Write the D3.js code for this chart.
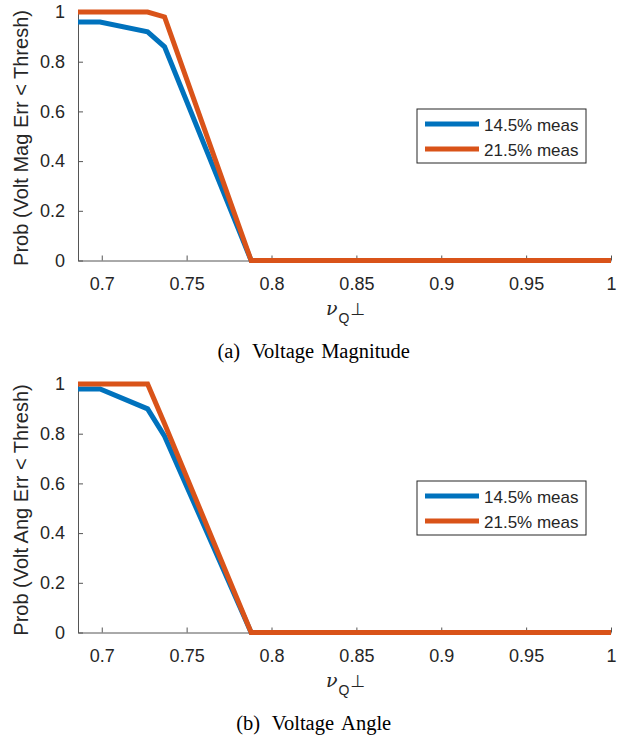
<!DOCTYPE html>
<html>
<head>
<meta charset="utf-8">
<script src="https://cdn.jsdelivr.net/npm/d3@7"></script>
<style>
  body { margin: 0; background: #fff; }
  svg text { font-family: "Liberation Sans", Arial, sans-serif; fill: #262626; }
</style>
</head>
<body>
<svg id="chart" width="619" height="738"></svg>
<script>
// shared x grid (nu_Q perp)
const xVals = [0.686, 0.699, 0.727, 0.737, 0.788, 1.0]

// (a) voltage magnitude
const magLow  = [0.96, 0.96, 0.92, 0.86, 0, 0]
const magHigh = [1, 1, 1, 0.98, 0, 0]
// (b) voltage angle
const angLow  = [0.98, 0.98, 0.90, 0.79, 0, 0]
const angHigh = [1, 1, 1, 0.84, 0, 0]

const seriesNames = ["14.5% meas", "21.5% meas"]
const colors = ["#0072BD", "#D95319"]
const xTicks = [0.7, 0.75, 0.8, 0.85, 0.9, 0.95, 1]
const yTicks = [0, 0.2, 0.4, 0.6, 0.8, 1]

const svg = d3.select('#chart')

const x = d3.scaleLinear().domain([0.686, 1]).range([78, 611])

function panel(top, ylabel, capTag, capWords, low, high) {
    const y = d3.scaleLinear().domain([0, 1]).range([top + 248.5, top])
    const g = svg.append('g')

    // axes, ticks point inward
    const xa = g.append('g')
        .attr('transform', `translate(0,${top + 248.5})`)
        .call(d3.axisBottom(x).tickValues(xTicks).tickSizeInner(-5).tickSizeOuter(0)
            .tickFormat(d => d3.format('~g')(d)).tickPadding(17))
    const ya = g.append('g')
        .attr('transform', 'translate(78,0)')
        .call(d3.axisLeft(y).tickValues(yTicks).tickSizeInner(-5).tickSizeOuter(0)
            .tickFormat(d => d3.format('~g')(d)).tickPadding(13))
    for (const a of [xa, ya]) {
        a.selectAll('path, line').attr('stroke', '#555').attr('stroke-width', 1)
        a.selectAll('text').attr('font-size', 18).attr('fill', '#262626')
            .attr('font-family', '"Liberation Sans", Arial, sans-serif')
    }

    // lines
    const line = d3.line().x((d, i) => x(xVals[i])).y(d => y(d))
    ;[low, high].forEach((s, k) => {
        g.append('path').datum(s)
            .attr('d', line)
            .attr('fill', 'none')
            .attr('stroke', colors[k])
            .attr('stroke-width', 5)
            .attr('stroke-linejoin', 'miter')
    })

    // y label
    g.append('text')
        .attr('transform', `translate(28,${top + 126}) rotate(-90)`)
        .attr('text-anchor', 'middle')
        .attr('font-size', 20)
        .text(ylabel)

    // x label: nu_Q perp
    const xl = g.append('text')
        .attr('x', 326).attr('y', top + 303)
        .attr('font-size', 19)
    xl.append('tspan').text('ν')
        .attr('font-family', '"DejaVu Serif", "Liberation Serif", serif')
        .attr('font-style', 'italic')
    xl.append('tspan').text('Q').attr('dy', 8).attr('font-size', 14).attr('dx', 1)
    xl.append('tspan').text('⊥').attr('dy', -8).attr('font-size', 17).attr('dx', 1)
        .attr('font-family', '"DejaVu Sans", sans-serif')

    // caption
    const cap = g.append('text')
        .attr('x', 313.7).attr('y', top + 346)
        .attr('text-anchor', 'middle')
        .attr('font-size', 20.5)
        .style('font-family', '"Liberation Serif", "Times New Roman", serif')
        .style('fill', '#000')
    cap.append('tspan').text(capTag)
    capWords.forEach((w, i) => {
        cap.append('tspan').attr('dx', i === 0 ? 11.7 : 7).text(w)
    })

    // legend
    const lg = g.append('g').attr('transform', `translate(417,${top + 97})`)
    lg.append('rect').attr('width', 169).attr('height', 54)
        .attr('fill', '#fff').attr('stroke', '#262626').attr('stroke-width', 1)
    seriesNames.forEach((n, k) => {
        const yy = 15 + k * 25
        lg.append('line').attr('x1', 8).attr('x2', 62).attr('y1', yy).attr('y2', yy)
            .attr('stroke', colors[k]).attr('stroke-width', 5)
        lg.append('text').attr('x', 67).attr('y', yy + 7)
            .attr('font-size', 17).text(n)
    })
}

panel(12, 'Prob (Volt Mag Err < Thresh)', '(a)', ['Voltage', 'Magnitude'], magLow, magHigh)
panel(384, 'Prob (Volt Ang Err < Thresh)', '(b)', ['Voltage', 'Angle'], angLow, angHigh)
</script>
</body>
</html>
